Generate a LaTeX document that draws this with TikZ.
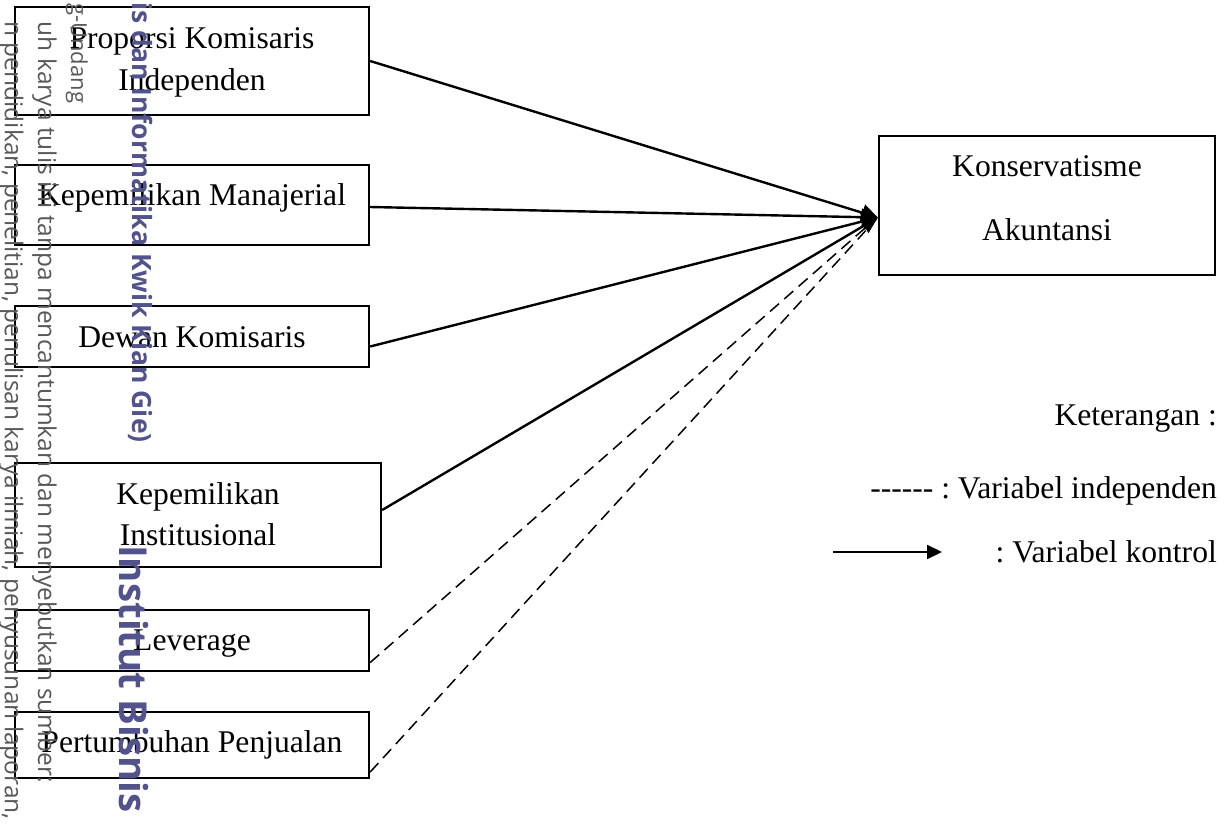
\documentclass[tikz,border=0pt]{standalone}
\usepackage{fontspec}
\setmainfont{Liberation Serif}
\newfontfamily\wmfont{Open Sans}
\usetikzlibrary{arrows.meta}
\definecolor{wmgray}{RGB}{88,88,88}
\definecolor{wmpurple}{RGB}{82,82,140}
\frenchspacing
\begin{document}
\begin{tikzpicture}[x=1pt,y=-1pt,
  box/.style={draw, line width=2.4pt, inner sep=0pt},
  lbl/.style={font=\fontsize{31.6}{40}\selectfont, anchor=base, inner sep=0pt},
  leg/.style={font=\fontsize{31.6}{40}\selectfont, anchor=base east, inner sep=0pt},
  solidarrow/.style={line width=2.4pt, -{Triangle[length=16pt,width=17pt]}},
  dasharrow/.style={line width=1.5pt, dash pattern=on 12pt off 7pt},
  wmg/.style={font=\wmfont\fontsize{24.5}{28}\selectfont, text=wmgray, rotate=-90, anchor=base east, inner sep=0pt},
  wmp/.style={text=wmpurple, rotate=-90, inner sep=0pt}]
\useasboundingbox (0,0) rectangle (1231,828);

% boxes
\node[box, minimum width=354pt, minimum height=108pt] (b1) at (192,61) {};
\node[box, minimum width=354pt, minimum height=80pt] (b2) at (192,205) {};
\node[box, minimum width=354pt, minimum height=61pt] (b3) at (192,336.5) {};
\node[box, minimum width=366pt, minimum height=104pt] (b4) at (198,515) {};
\node[box, minimum width=354pt, minimum height=61pt] (b5) at (192,640.5) {};
\node[box, minimum width=354pt, minimum height=66pt] (b6) at (192,745) {};
\node[box, minimum width=336pt, minimum height=139pt] (k) at (1047,205.5) {};

% box texts
\node[lbl] (t1a) at (192,48) {Proporsi Komisaris};
\node[lbl] (t1b) at (192,90) {Independen};
\node[lbl] (t2) at (192,205) {Kepemilikan Manajerial};
\node[lbl] (t3) at (192,347) {Dewan Komisaris};
\node[lbl] (t4a) at (198,504) {Kepemilikan};
\node[lbl] (t4b) at (198,545) {Institusional};
\node[lbl] (t5) at (192,650) {Leverage};
\node[lbl] (t6) at (192,752) {Pertumbuhan Penjualan};
\node[lbl] (tka) at (1047,176) {Konservatisme};
\node[lbl] (tkb) at (1047,240) {Akuntansi};

% connectors
\coordinate (tip) at ([yshift=-12pt]k.west);
\draw[solidarrow] (b1.east) -- (tip);
\draw[solidarrow] ([yshift=-2pt]b2.east) -- (tip);
\draw[solidarrow] ([yshift=-10pt]b3.east) -- (tip);
\draw[solidarrow] ([yshift=5pt]b4.east) -- (tip);
\draw[dasharrow] ([yshift=-22pt]b5.east) -- ([xshift=-3pt,yshift=-2pt]tip);
\draw[dasharrow] ([yshift=-27pt]b6.east) -- ([xshift=-1pt,yshift=-1pt]tip);

% legend
\node[leg] (ket) at (1217,425) {Keterangan :};
\node[leg] (vi) at (1217,498) {{-}{-}{-}{-}{-}{-} : Variabel independen};
\node[leg] (vk) at (1217,562) {: Variabel kontrol};
\coordinate (la) at (833,552);
\coordinate (lb) at (942,552);
\draw[line width=2.2pt, -{Triangle[length=15pt,width=14pt]}] (la) -- (lb);

% watermark
\node[wmg] (w1) at (5,820) {n pendidikan, penelitian, penulisan karya ilmiah, penyusunan laporan,};
\node[wmg] (w2) at (38,783) {uh karya tulis ini tanpa mencantumkan dan menyebutkan sumber:};
\node[wmg, anchor=base west, font=\wmfont\fontsize{22}{26}\selectfont] (w3) at (71,3) {g-Undang};
\node[wmp, anchor=base east, font=\wmfont\bfseries\fontsize{26.5}{30}\selectfont] (w4) at (132,443) {is dan Informatika Kwik Kian Gie)};
\node[wmp, anchor=base west, font=\wmfont\bfseries\fontsize{38.5}{42}\selectfont] (w5) at (119,545) {Institut Bisnis};
\end{tikzpicture}
\end{document}
